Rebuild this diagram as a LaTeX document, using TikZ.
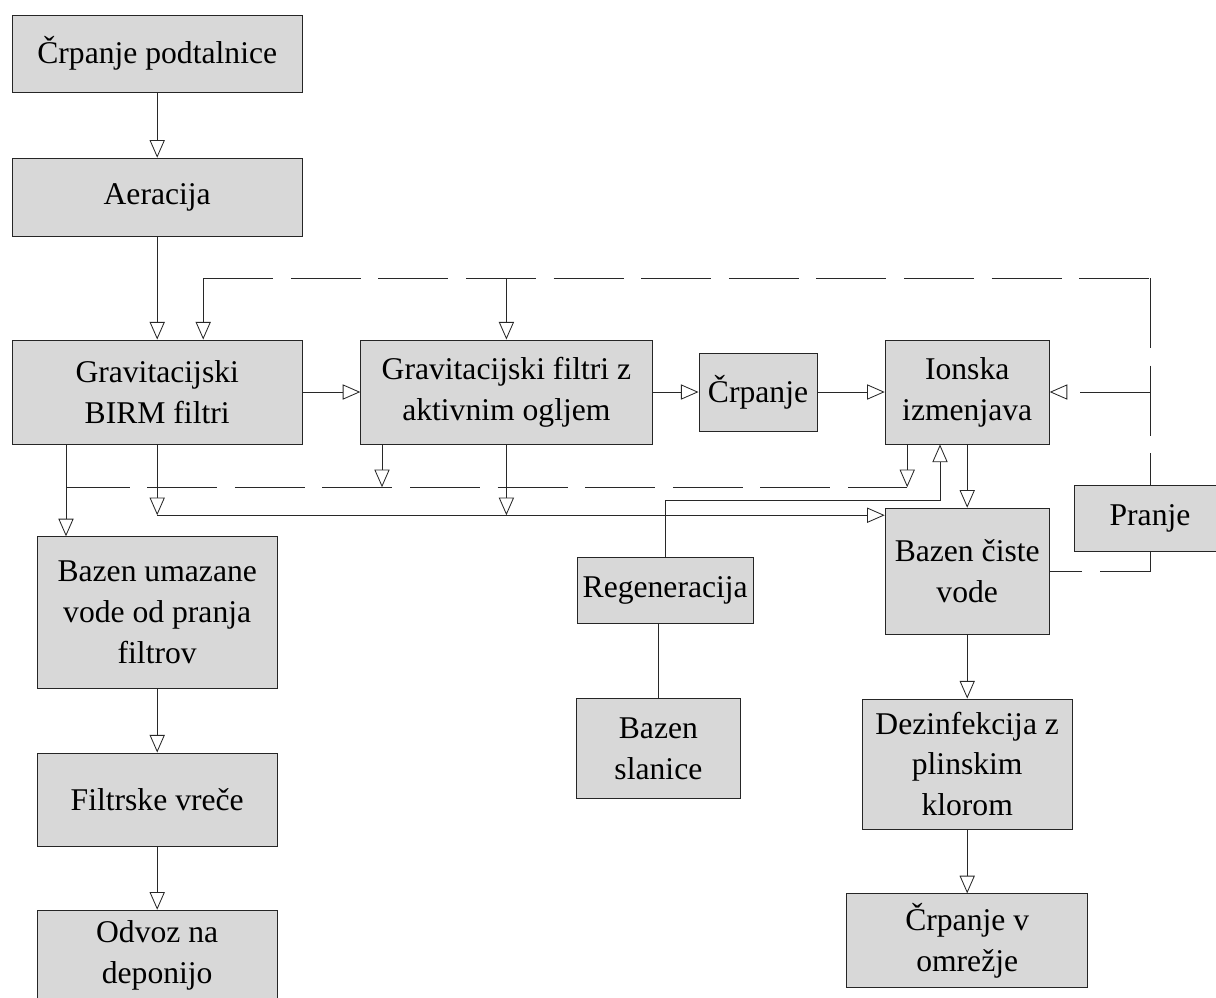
\documentclass[tikz,border=0pt]{standalone}
\usepackage{fontspec}
\setmainfont{LiberationSerif}[Extension=.ttf,UprightFont=*-Regular,BoldFont=*-Bold,ItalicFont=*-Italic]
\usetikzlibrary{arrows.meta}
\definecolor{boxgray}{RGB}{216,216,216}
\definecolor{lgray}{RGB}{40,40,40}
\tikzset{
  stage/.style={draw=black!85,fill=boxgray,line width=0.7pt,inner sep=0pt,align=center,
    font=\fontsize{22.5}{29}\selectfont},
  pipe/.style={draw=lgray,line width=0.6pt},
  flow/.style={pipe,-{Triangle[open,length=4.4mm,width=3.8mm]}},
  wash/.style={pipe,dash pattern=on 1.75cm off 0.44cm},
  washflow/.style={wash,-{Triangle[open,length=4.4mm,width=3.8mm]}},
}
\begin{document}
\begin{tikzpicture}
\useasboundingbox (0,0) rectangle (30.4,-24.925);
\node[stage,minimum width=7.25cm,minimum height=1.93cm] (crp) at (3.93,-1.34) {Črpanje podtalnice};
\node[stage,minimum width=7.25cm,minimum height=1.95cm] (aer) at (3.93,-4.93) {Aeracija};
\node[stage,minimum width=7.25cm,minimum height=2.6cm] (birm) at (3.93,-9.8) {Gravitacijski\\BIRM filtri};
\node[stage,minimum width=7.28cm,minimum height=2.6cm] (akt) at (12.66,-9.8) {Gravitacijski filtri z\\aktivnim ogljem};
\node[stage,minimum width=2.95cm,minimum height=1.95cm] (crpa) at (18.95,-9.8) {Črpanje};
\node[stage,minimum width=4.1cm,minimum height=2.6cm] (ion) at (24.18,-9.8) {Ionska\\izmenjava};
\node[stage,minimum width=3.8cm,minimum height=1.65cm] (pranje) at (28.75,-12.95) {Pranje};
\node[stage,minimum width=4.1cm,minimum height=3.15cm] (bcv) at (24.18,-14.28) {Bazen čiste\\vode};
\node[stage,minimum width=6.0cm,minimum height=3.78cm] (bum) at (3.93,-15.31) {Bazen umazane\\vode od pranja\\filtrov};
\node[stage,minimum width=6.0cm,minimum height=2.33cm] (fv) at (3.93,-19.99) {Filtrske vreče};
\node[stage,minimum width=6.0cm,minimum height=2.25cm] (odv) at (3.93,-23.88) {Odvoz na\\deponijo};
\node[stage,minimum width=4.4cm,minimum height=1.63cm] (reg) at (16.63,-14.76) {Regeneracija};
\node[stage,minimum width=4.08cm,minimum height=2.48cm] (bsl) at (16.46,-18.71) {Bazen\\slanice};
\node[stage,minimum width=5.25cm,minimum height=3.25cm] (dez) at (24.18,-19.1) {Dezinfekcija z\\plinskim\\klorom};
\node[stage,minimum width=6.03cm,minimum height=2.33cm] (cvo) at (24.18,-23.51) {Črpanje v\\omrežje};
\coordinate (jL) at (5.08,-6.95);
\coordinate (jA) at (12.66,-6.95);
\coordinate (jT) at (28.75,-6.95);
\coordinate (jR) at (28.75,-9.8);
\coordinate (dL) at (1.65,-12.18);
\coordinate (dA) at (9.55,-12.18);
\coordinate (dR) at (22.68,-12.18);
\coordinate (cL) at (3.93,-12.88);
\coordinate (cA) at (12.66,-12.88);
\coordinate (rg) at (16.63,-12.5);
\coordinate (ri) at (23.5,-12.5);
\draw[flow] (crp) -- (aer);
\draw[flow] (aer) -- (birm);
\draw[flow] (birm) -- (akt);
\draw[flow] (akt) -- (crpa);
\draw[flow] (crpa) -- (ion);
\draw[flow] (ion) -- (bcv);
\draw[flow] (bcv) -- (dez);
\draw[flow] (dez) -- (cvo);
\draw[flow] (bum) -- (fv);
\draw[flow] (fv) -- (odv);
\draw[wash] (jL) -- (jT);
\draw[wash] (jT) -- (pranje.north);
\draw[flow] (jL) -- (birm.north -| jL);
\draw[flow] (jA) -- (akt.north);
\draw[washflow] (jR) -- (ion.east);
\draw[wash] (pranje.south) |- (bcv.east);
\draw[flow] (ion.south -| dR) -- (dR);
\draw[flow] (akt.south -| dA) -- (dA);
\draw[wash,dash phase=0.16cm] (dL) -- (dR);
\draw[flow] (birm.south -| dL) -- (bum.north -| dL);
\draw[flow] (birm.south) -- (cL);
\draw[flow] (akt.south) -- (cA);
\draw[flow] (cL) -- (bcv.west |- cL);
\draw[flow] (reg.north) -- (rg) -- (ri) -- (ion.south -| ri);
\draw[pipe] (reg.south -| bsl.north) -- (bsl.north);
\end{tikzpicture}
\end{document}
